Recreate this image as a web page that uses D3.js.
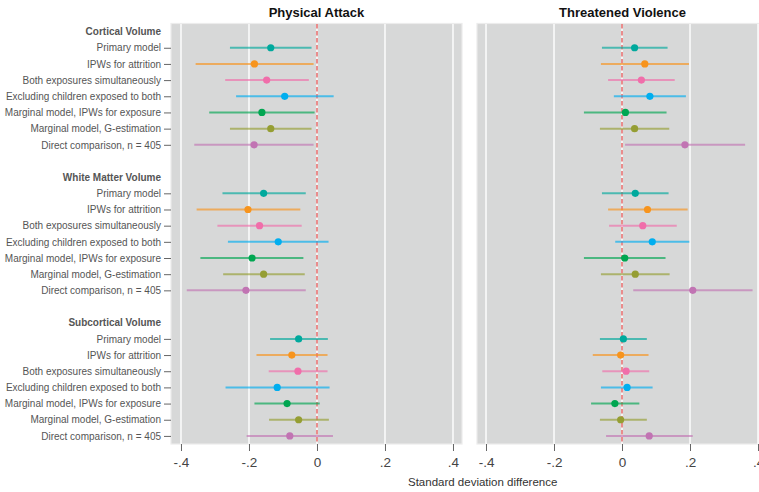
<!DOCTYPE html>
<html>
<head>
<meta charset="utf-8">
<script src="https://cdn.jsdelivr.net/npm/d3@7"></script>
<style>
  html, body { margin: 0; padding: 0; background: #ffffff; }
  svg { display: block; font-family: "Liberation Sans", Arial, Helvetica, sans-serif; }
</style>
</head>
<body>
<svg id="chart" width="759" height="492"></svg>
<script>
// Outcome groups and model variants (rows of the forest plot)
const groups = ["Cortical Volume", "White Matter Volume", "Subcortical Volume"];
const models = [
  "Primary model",
  "IPWs for attrition",
  "Both exposures simultaneously",
  "Excluding children exposed to both",
  "Marginal model, IPWs for exposure",
  "Marginal model, G-estimation",
  "Direct comparison, n = 405"
];
const modelColors = ["#00a99d", "#f7941d", "#f06eaa", "#00aeef", "#00a651", "#959e33", "#c174b3"];

// Panels (exposures)
const panels = ["Physical Attack", "Threatened Violence"];

// Physical attack: estimate, lower and upper 95% CI (cortical, white matter, subcortical)
const attackEstimate = [
  -0.136, -0.184, -0.148, -0.095, -0.162, -0.136, -0.185,
  -0.157, -0.203, -0.169, -0.114, -0.191, -0.157, -0.209,
  -0.054, -0.074, -0.056, -0.117, -0.088, -0.054, -0.080
];
const attackLower = [
  -0.256, -0.357, -0.270, -0.238, -0.317, -0.256, -0.361,
  -0.278, -0.354, -0.293, -0.262, -0.343, -0.276, -0.383,
  -0.138, -0.178, -0.142, -0.269, -0.184, -0.141, -0.207
];
const attackUpper = [
  -0.016, -0.010, -0.024, 0.049, -0.007, -0.016, -0.010,
  -0.033, -0.049, -0.045, 0.034, -0.040, -0.036, -0.033,
  0.032, 0.031, 0.031, 0.037, 0.008, 0.035, 0.047
];

// Threatened violence: estimate, lower and upper 95% CI
const threatEstimate = [
  0.037, 0.067, 0.057, 0.082, 0.010, 0.037, 0.185,
  0.039, 0.075, 0.061, 0.089, 0.008, 0.039, 0.208,
  0.004, -0.004, 0.012, 0.015, -0.021, -0.004, 0.080
];
const threatLower = [
  -0.059, -0.062, -0.041, -0.024, -0.112, -0.065, 0.009,
  -0.059, -0.041, -0.038, -0.020, -0.112, -0.062, 0.033,
  -0.065, -0.086, -0.058, -0.062, -0.091, -0.065, -0.047
];
const threatUpper = [
  0.134, 0.197, 0.155, 0.188, 0.131, 0.139, 0.362,
  0.137, 0.193, 0.161, 0.198, 0.128, 0.140, 0.384,
  0.073, 0.078, 0.080, 0.090, 0.051, 0.073, 0.208
];

// x axis ticks
const xTickValues = [-0.4, -0.2, 0, 0.2, 0.4];
const xTickLabels = ["-.4", "-.2", "0", ".2", ".4"];
const xDomains = [[-0.4294, 0.4265], [-0.4265, 0.4029]];
const xTitle = "Standard deviation difference";

// ---- layout ----
const svg = d3.select("#chart");
const plotTop = 23.5, plotBottom = 444;
const panelRanges = [[171, 462], [477, 759]];

// Vertical slot list: header, 7 model rows, blank spacer between groups
const slots = [];
groups.forEach((g, gi) => {
  slots.push("H|" + gi);
  models.forEach((m, mi) => slots.push("R|" + gi + "|" + mi));
  if (gi < groups.length - 1) slots.push("S|" + gi);
});
const y = d3.scalePoint().domain(slots).range([plotTop, plotBottom]).padding(0.5);

const seriesByPanel = [
  { est: attackEstimate, lo: attackLower, hi: attackUpper },
  { est: threatEstimate, lo: threatLower, hi: threatUpper }
];

const rows = [];
groups.forEach((g, gi) => models.forEach((m, mi) => rows.push({ gi, mi, key: "R|" + gi + "|" + mi })));

panels.forEach((title, pi) => {
  const x = d3.scaleLinear().domain(xDomains[pi]).range(panelRanges[pi]);
  const [x0, x1] = panelRanges[pi];
  const g = svg.append("g");

  // panel background
  g.append("rect")
    .attr("x", x0).attr("y", plotTop)
    .attr("width", x1 - x0).attr("height", plotBottom - plotTop)
    .attr("fill", "#d7d8d8")
    .attr("stroke", "#ececec").attr("stroke-width", 1.2);

  // white gridlines
  g.selectAll("line.grid").data(xTickValues).join("line")
    .attr("class", "grid")
    .attr("x1", d => x(d)).attr("x2", d => x(d))
    .attr("y1", plotTop + 0.6).attr("y2", plotBottom)
    .attr("stroke", "#ffffff").attr("stroke-width", 1.4);

  // reference line at zero
  g.append("line")
    .attr("x1", x(0)).attr("x2", x(0))
    .attr("y1", plotTop + 0.6).attr("y2", plotBottom)
    .attr("stroke", "#ea8c8c").attr("stroke-width", 2)
    .attr("stroke-dasharray", "4.5,2.5");

  // panel title
  svg.append("text")
    .attr("x", (x(xDomains[pi][0]) + x(xDomains[0][1] - xDomains[0][0] + xDomains[pi][0])) / 2)
    .attr("y", 17)
    .attr("text-anchor", "middle")
    .attr("font-size", 13).attr("font-weight", "bold")
    .attr("fill", "#111")
    .text(title);

  const s = seriesByPanel[pi];
  const idx = (r) => r.gi * models.length + r.mi;

  // confidence intervals
  g.selectAll("line.ci").data(rows).join("line")
    .attr("class", "ci")
    .attr("x1", r => x(s.lo[idx(r)])).attr("x2", r => x(s.hi[idx(r)]))
    .attr("y1", r => y(r.key)).attr("y2", r => y(r.key))
    .attr("stroke", r => modelColors[r.mi])
    .attr("stroke-opacity", 0.65)
    .attr("stroke-width", 2);

  // point estimates
  g.selectAll("circle.pt").data(rows).join("circle")
    .attr("class", "pt")
    .attr("cx", r => x(s.est[idx(r)]))
    .attr("cy", r => y(r.key))
    .attr("r", 3.6)
    .attr("fill", r => modelColors[r.mi]);

  // bottom axis
  const ax = svg.append("g")
    .attr("transform", `translate(0,${plotBottom})`)
    .call(d3.axisBottom(x).tickValues(xTickValues)
      .tickFormat((d, i) => xTickLabels[i]).tickSize(7).tickPadding(6.5));
  ax.select(".domain").remove();
  ax.selectAll(".tick line").attr("stroke", "#666").attr("stroke-width", 1);
  ax.selectAll(".tick text")
    .attr("font-size", 13.5).attr("fill", "#444")
    .attr("font-family", "Liberation Sans, Arial, sans-serif");

  if (pi === 0) {
    // row labels
    const ay = svg.append("g")
      .attr("transform", `translate(${x0},0)`)
      .call(d3.axisLeft(y).tickValues(rows.map(r => r.key))
        .tickFormat(k => models[+k.split("|")[2]]).tickSize(7).tickPadding(3));
    ay.select(".domain").remove();
    ay.selectAll(".tick line").attr("stroke", "#666").attr("stroke-width", 1);
    ay.selectAll(".tick text")
      .attr("font-size", 10).attr("fill", "#555")
      .attr("font-family", "Liberation Sans, Arial, sans-serif");

    // group headers
    svg.selectAll("text.hdr").data(groups).join("text")
      .attr("class", "hdr")
      .attr("x", x0 - 10)
      .attr("y", (d, gi) => y("H|" + gi))
      .attr("dy", "0.35em")
      .attr("text-anchor", "end")
      .attr("font-size", 10).attr("font-weight", "bold")
      .attr("fill", "#555")
      .text(d => d);
  }
});

// x axis title
svg.append("text")
  .attr("x", 482.7).attr("y", 486)
  .attr("text-anchor", "middle")
  .attr("font-size", 11.5).attr("fill", "#333")
  .text(xTitle);
</script>
</body>
</html>
